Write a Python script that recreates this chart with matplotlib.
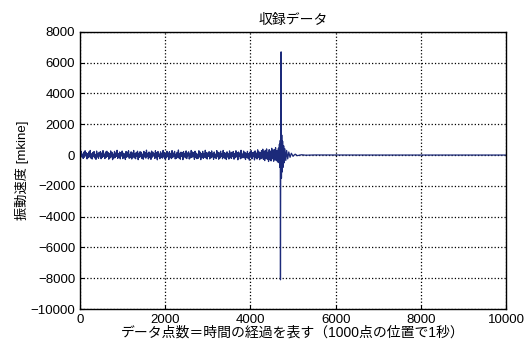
import numpy as np
import matplotlib
matplotlib.use("Agg")
import matplotlib.pyplot as plt

plt.rcParams['font.family'] = ['Liberation Sans', 'Noto Sans CJK JP', 'DejaVu Sans']

# pre-event noise, sampled every 15 points from 0 to 4650 [mkine]
noise_step = 15
noise_vel = [
    120, -180, 240, -90, 60, -220, 190, -140, 280, -60, 150, -250, 90, -170, 210, -120,
    300, -200, 80, -260, 170, -110, 230, -190, 40, -280, 260, -130, 110, -210, 180, -70,
    220, -240, 130, -160, 290, -100, 70, -230, 200, -150, 250, -80, 160, -270, 90, -190,
    270, -120, 180, -300, 60, -200, 240, -170, 140, -90, 310, -220, 100, -160, 200, -250,
    150, -60, 260, -230, 120, -180, 80, -290, 230, -140, 190, -100, 280, -210, 50, -170,
    210, -260, 140, -120, 300, -190, 90, -240, 170, -80, 250, -300, 120, -150, 220, -110,
    180, -230, 60, -270, 240, -130, 160, -200, 320, -90, 110, -250, 200, -170, 130, -280,
    260, -140, 190, -60, 90, -220, 280, -180, 150, -310, 230, -100, 70, -240, 210, -160,
    120, -200, 300, -130, 170, -260, 80, -190, 250, -110, 140, -290, 220, -150, 100, -230,
    290, -170, 130, -80, 240, -250, 60, -210, 180, -140, 330, -200, 110, -270, 190, -90,
    160, -300, 230, -120, 90, -180, 270, -230, 140, -60, 210, -260, 80, -190, 300, -150,
    200, -110, 150, -280, 250, -170, 120, -240, 60, -210, 280, -130, 190, -300, 100, -160,
    240, -220, 80, -140, 310, -190, 170, -260, 130, -90, 220, -250, 150, -180, 270, -120,
    110, -280, 200, -160, 60, -230, 290, -110, 180, -270, 140, -200, 250, -80, 90, -240,
    300, -150, 160, -230, 120, -290, 210, -130, 80, -260, 270, -180, 140, -220, 190, -100,
    230, -270, 100, -170, 280, -120, 150, -310, 200, -90, 130, -240, 310, -200, 70, -160,
    260, -190, 180, -290, 110, -150, 240, -220, 90, -330, 200, -130, 280, -250, 160, -110,
    190, -320, 270, -180, 130, -260, 340, -140, 210, -300, 150, -240, 290, -190, 380, -280,
    240, -360, 310, -220, 400, -270, 180, -420, 350, -300, 260, -380, 440, -240, 320, -400,
    360, -310, 480, -350, 280, -450, 390,
]

# event part: sample index and velocity [mkine]
event_idx = [4660, 4670, 4680, 4690, 4700, 4705, 4712, 4720, 4728, 4735,
             4745, 4755, 4765, 4780, 4795, 4810, 4830, 4850, 4875, 4900,
             4930, 4960, 5000, 5050, 5100, 5200, 5300, 5500, 7000, 10000]
event_vel = [450, -500, 700, -800, 950, -8100, 1200, 6700, -1500, 1300,
             -1100, 900, -800, 600, -500, 400, -350, 300, -250, 200,
             -150, 120, -80, 60, -40, 20, -10, 5, 0, 0]

noise_idx = np.arange(len(noise_vel)) * noise_step
x = np.concatenate([noise_idx, event_idx])
y = np.concatenate([noise_vel, event_vel])

fig = plt.figure(figsize=(5.28, 3.5), dpi=100)
ax = fig.add_axes([0.1515, 0.117, 0.807, 0.792])
ax.plot(x, y, color='#1c2a7a', linewidth=0.9)

ax.set_xlim(0, 10000)
ax.set_ylim(-10000, 8000)
ax.set_xticks(np.arange(0, 10001, 2000))
ax.set_yticks(np.arange(-10000, 8001, 2000))
ax.grid(True, linestyle=':', color='black', linewidth=0.9)
ax.tick_params(direction='in', labelsize=9.5, length=3)
for s in ax.spines.values():
    s.set_linewidth(1.0)

ax.set_title('収録データ', fontsize=10, pad=6)
ax.set_xlabel('データ点数＝時間の経過を表す（1000点の位置で1秒）', fontsize=10, labelpad=0)
ax.set_ylabel('振動速度 [mkine]', fontsize=9.5, labelpad=1)

fig.savefig('out.png', dpi=100)
